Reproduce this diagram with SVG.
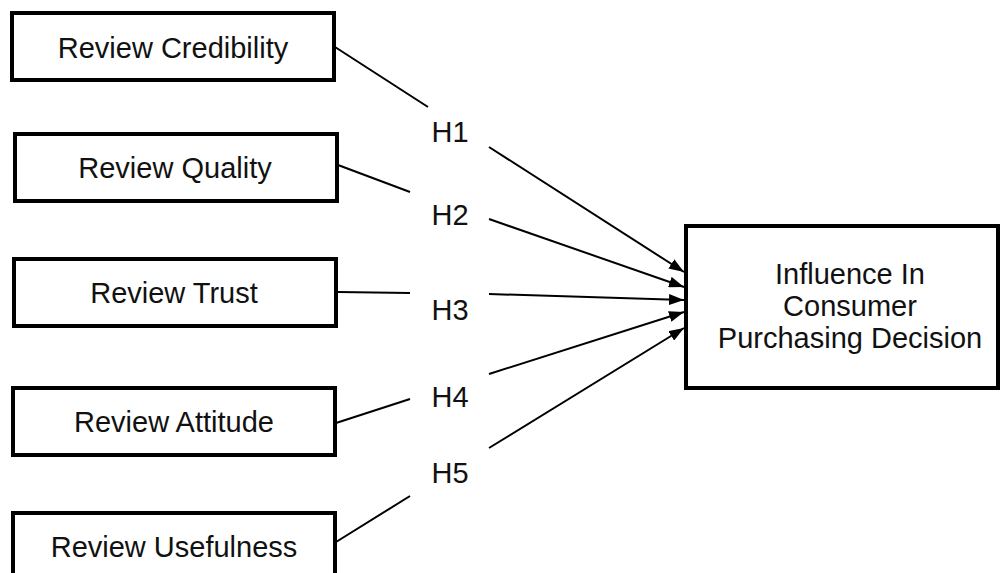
<svg xmlns="http://www.w3.org/2000/svg" width="1002" height="573" viewBox="0 0 1002 573">
<style>
.box{fill:#fff;stroke:#000;stroke-width:4}
.t{font-family:"Liberation Sans",Arial,sans-serif;font-size:29px;fill:#111;text-anchor:middle}
.c{fill:none;stroke:#000;stroke-width:2}
</style>
<defs>
<marker id="ah" viewBox="0 0 15 11" refX="15" refY="5.5" markerWidth="15" markerHeight="11" markerUnits="userSpaceOnUse" orient="auto">
<path d="M0,0 L15,5.5 L0,11 Z" fill="#000"/>
</marker>
</defs>
<rect width="1002" height="573" fill="#fff"/>
<g id="connectors">
<line class="c" x1="335" y1="47" x2="428" y2="107"/>
<line class="c" x1="489" y1="147" x2="684" y2="272" marker-end="url(#ah)"/>
<line class="c" x1="338" y1="165" x2="410" y2="192"/>
<line class="c" x1="489" y1="219" x2="684" y2="287" marker-end="url(#ah)"/>
<line class="c" x1="338" y1="292" x2="410" y2="293"/>
<line class="c" x1="489" y1="294" x2="684" y2="300" marker-end="url(#ah)"/>
<line class="c" x1="336" y1="423" x2="410" y2="399"/>
<line class="c" x1="489" y1="374" x2="684" y2="312" marker-end="url(#ah)"/>
<line class="c" x1="336" y1="542" x2="410" y2="496"/>
<line class="c" x1="489" y1="448" x2="684" y2="328" marker-end="url(#ah)"/>
<text class="t" x="450" y="142">H1</text>
<text class="t" x="450" y="225">H2</text>
<text class="t" x="450" y="320">H3</text>
<text class="t" x="450" y="407">H4</text>
<text class="t" x="450" y="483">H5</text>
</g>
<g id="n1"><rect class="box" x="12" y="13" width="322" height="67"/><text class="t" x="173" y="58">Review Credibility</text></g>
<g id="n2"><rect class="box" x="15" y="134" width="322" height="67"/><text class="t" x="175" y="178">Review Quality</text></g>
<g id="n3"><rect class="box" x="14" y="259" width="322" height="67"/><text class="t" x="174" y="303">Review Trust</text></g>
<g id="n4"><rect class="box" x="13" y="388" width="322" height="67"/><text class="t" x="174" y="432">Review Attitude</text></g>
<g id="n5"><rect class="box" x="13" y="513" width="322" height="67"/><text class="t" x="174" y="557">Review Usefulness</text></g>
<g id="target"><rect class="box" x="686" y="226" width="312" height="162"/>
<text class="t" x="850" y="284">Influence In</text>
<text class="t" x="850" y="316">Consumer</text>
<text class="t" x="850" y="348">Purchasing Decision</text></g>
</svg>
